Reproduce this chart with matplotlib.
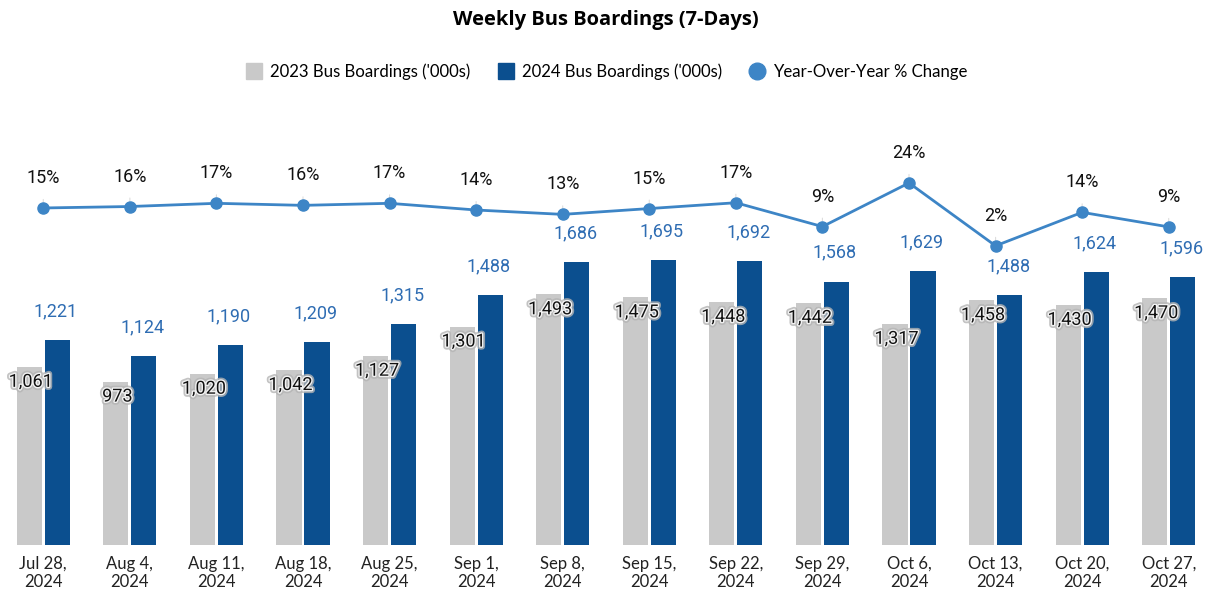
import numpy as np
import matplotlib
matplotlib.use('Agg')
import matplotlib.pyplot as plt
import matplotlib.patheffects as pe
from matplotlib.lines import Line2D

# ---------- data ----------
weeks = ['Jul 28,\n2024', 'Aug 4,\n2024', 'Aug 11,\n2024', 'Aug 18,\n2024', 'Aug 25,\n2024',
         'Sep 1,\n2024', 'Sep 8,\n2024', 'Sep 15,\n2024', 'Sep 22,\n2024', 'Sep 29,\n2024',
         'Oct 6,\n2024', 'Oct 13,\n2024', 'Oct 20,\n2024', 'Oct 27,\n2024']
b2023 = [1061, 973, 1020, 1042, 1127, 1301, 1493, 1475, 1448, 1442, 1317, 1458, 1430, 1470]
b2024 = [1221, 1124, 1190, 1209, 1315, 1488, 1686, 1695, 1692, 1568, 1629, 1488, 1624, 1596]
yoy = [15.1, 15.6, 16.7, 16.0, 16.7, 14.4, 12.9, 14.9, 16.9, 8.7, 23.7, 2.1, 13.6, 8.6]

C23 = '#c9c9c9'
C24 = '#0b4f8f'
CLINE = '#3d85c6'
CLAB = '#2f6db3'

fig = plt.figure(figsize=(12.12, 5.9), dpi=100)
ax = fig.add_axes([0.0, 1 - 545 / 590, 1.0, 445 / 590])
x = np.arange(len(weeks))
w = 0.29
ax.bar(x - w / 2 - 0.017, b2023, w, color=C23, zorder=2)
ax.bar(x + w / 2 + 0.017, b2024, w, color=C24, zorder=2)
ax.set_xlim(-0.5, len(weeks) - 0.5)
ax.set_ylim(0, 2650)
ax.set_yticks([])
ax.set_xticks(x)
ax.set_xticklabels(weeks, fontsize=12, family='Lato', color='#222222', linespacing=1.15)
ax.tick_params(axis='x', length=0, pad=8)
for s in ax.spines.values():
    s.set_visible(False)

# 2023 labels: dark text with a soft grey halo
halo = [pe.Stroke(linewidth=4.5, foreground='#b4b4b4', alpha=0.8),
        pe.Stroke(linewidth=2, foreground='#f2f2f2'), pe.Normal()]
for i in range(len(weeks)):
    ax.annotate(f'{b2024[i]:,}', (x[i] + w / 2, b2024[i]), xytext=(0, 29),
                textcoords='offset pixels', ha='center', va='center',
                fontsize=13, family='Roboto', color=CLAB, zorder=5)
    ax.annotate(f'{b2023[i]:,}', (x[i] - w / 2, b2023[i]), xytext=(0, -15),
                textcoords='offset pixels', ha='center', va='center',
                fontsize=13, family='Roboto', color='#111111', path_effects=halo, zorder=5)

ax2 = ax.twinx()
ax2.plot(x, yoy, color=CLINE, lw=2, marker='o', ms=8, zorder=4)
ax2.set_ylim(-100.7, 52.2)
ax2.set_yticks([])
for s in ax2.spines.values():
    s.set_visible(False)
for i in range(len(weeks)):
    ax2.annotate(f'{yoy[i]:.0f}%', (x[i], yoy[i]), xytext=(0, 30),
                 textcoords='offset pixels', ha='center', va='center',
                 fontsize=13, family='Roboto', color='#111111',
                 arrowprops=dict(arrowstyle='-', color='#dddddd', lw=0.8,
                                 shrinkA=7, shrinkB=4))

fig.text(0.5, 1 - 20 / 590, 'Weekly Bus Boardings (7-Days)', ha='center', va='center',
         fontsize=14.5, fontweight='bold', family='Open Sans')

handles = [Line2D([], [], ls='', marker='s', ms=12, color=C23),
           Line2D([], [], ls='', marker='s', ms=12, color=C24),
           Line2D([], [], ls='', marker='o', ms=12, color=CLINE)]
fig.legend(handles, ["2023 Bus Boardings ('000s)", "2024 Bus Boardings ('000s)",
                     'Year-Over-Year % Change'],
           loc='center', bbox_to_anchor=(0.5, 1 - 72 / 590), ncol=3, frameon=False,
           prop=dict(family='Lato', size=12.1), handletextpad=0.35, columnspacing=1.5,
           handlelength=1.2)

fig.savefig('out.png', dpi=100)
